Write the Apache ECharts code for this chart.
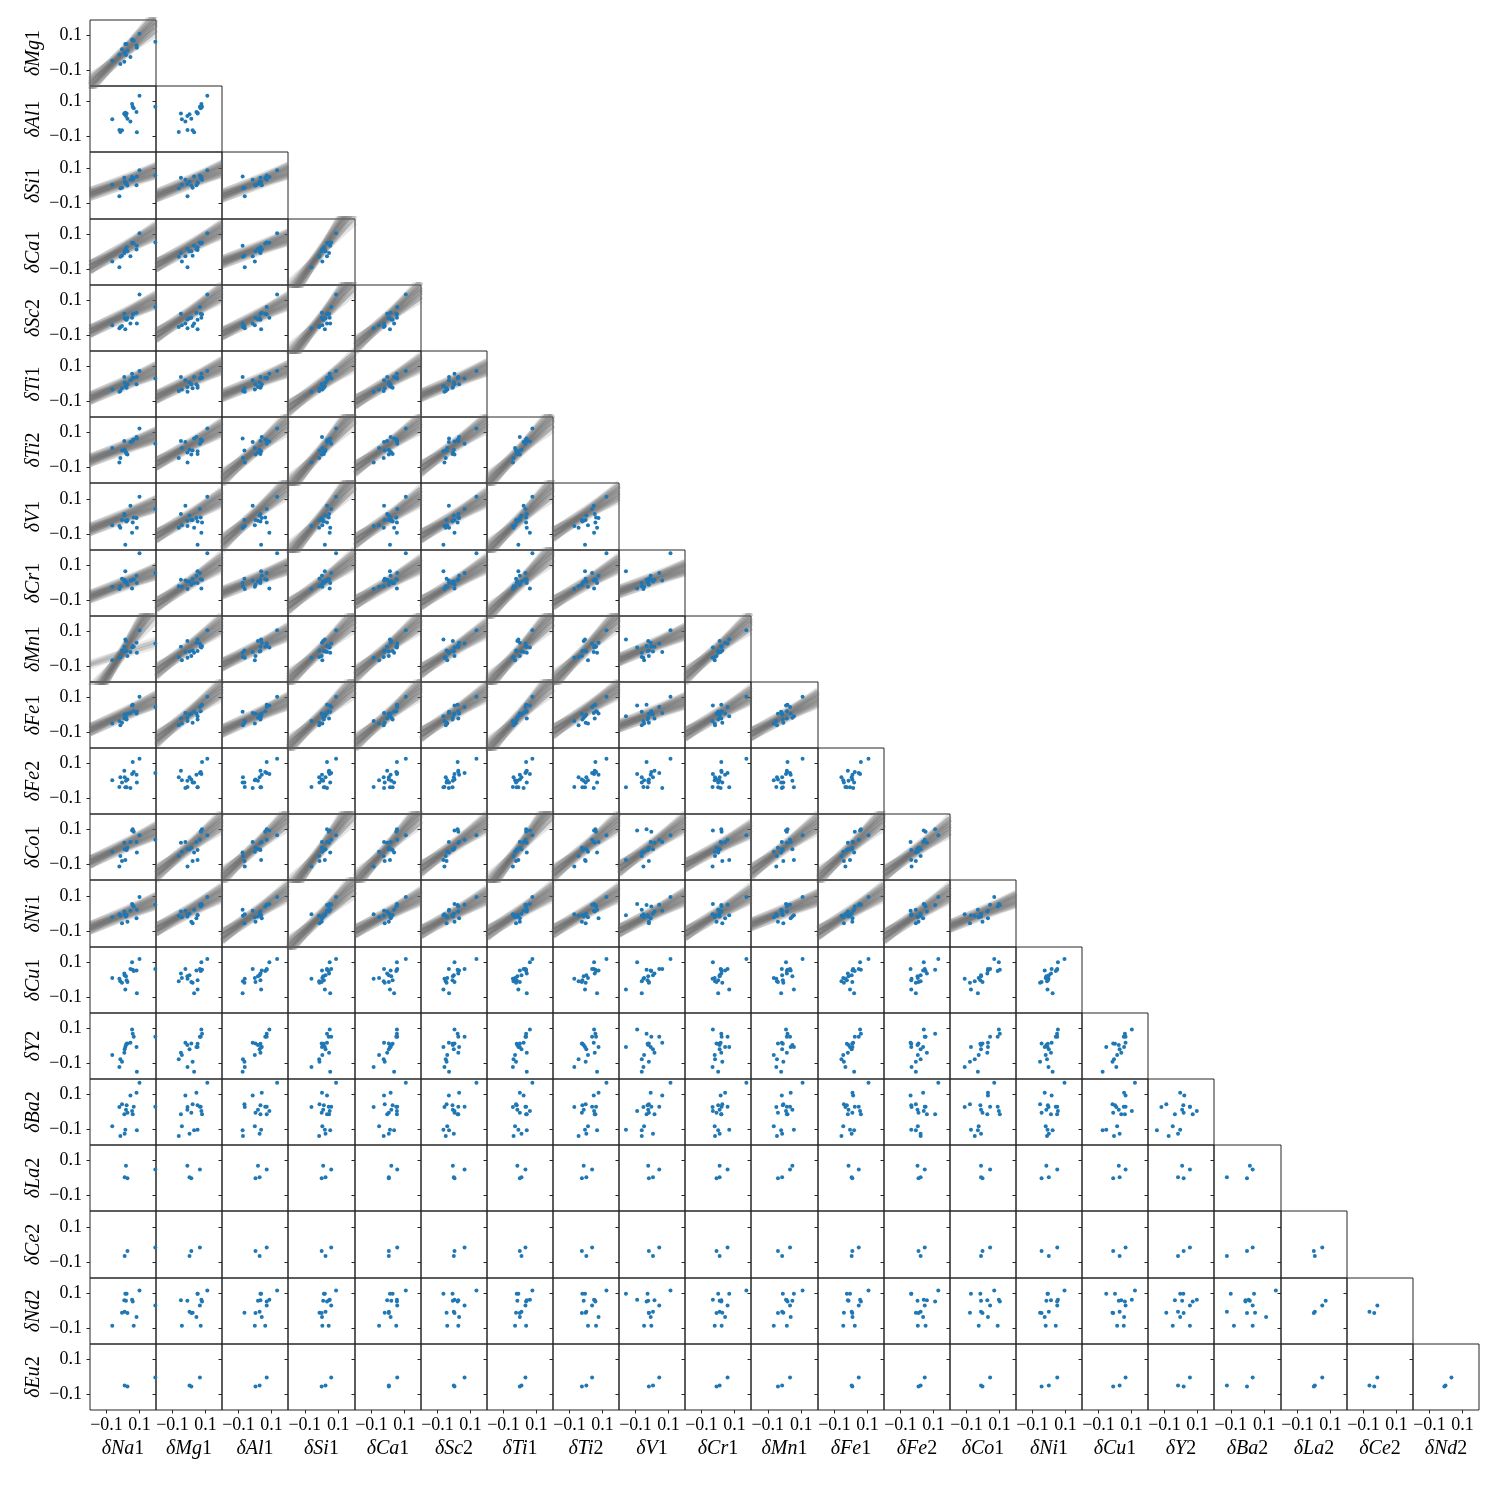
<!DOCTYPE html>
<html>
<head>
<meta charset="utf-8">
<script src="https://cdn.jsdelivr.net/npm/echarts@6/dist/echarts.min.js"></script>
<style>
html, body { margin: 0; background: #fff; }
#chart { width: 1500px; height: 1500px; }
</style>
</head>
<body>
<div id="chart"></div>
<script>
// abundance offsets of each star (same star order in every array, null = not measured)
var na1 = [-0.065, -0.022, -0.016, -0.006, 0.008, 0.010, 0.014, 0.018, 0.022, 0.027, 0.045, 0.055, 0.059, 0.065, 0.082, 0.084, 0.100, 0.196];
var mg1 = [-0.043, -0.009, -0.062, 0.022, -0.049, 0.003, 0.052, -0.010, 0.052, 0.014, -0.022, 0.075, 0.079, 0.071, 0.045, 0.031, 0.111, 0.066];
var al1 = [-0.001, -0.062, -0.073, -0.064, 0.033, 0.028, 0.037, 0.018, 0.033, 0.003, -0.014, 0.087, 0.071, 0.062, 0.041, -0.075, 0.134, 0.071];
var si1 = [0.005, -0.060, -0.014, -0.012, 0.045, 0.024, 0.020, 0.010, 0.014, 0.001, 0.033, 0.049, 0.033, 0.043, 0.003, 0.052, 0.087, 0.058];
var ca1 = [-0.054, -0.087, -0.026, -0.020, -0.005, 0.005, 0.012, 0.020, 0.028, 0.005, -0.024, 0.054, 0.054, 0.050, 0.016, 0.037, 0.108, 0.056];
var sc2 = [-0.041, -0.058, -0.050, -0.045, 0.026, -0.001, -0.064, -0.007, -0.009, 0.003, -0.031, 0.003, 0.022, 0.026, 0.031, -0.030, 0.136, 0.064];
var ti1 = [-0.030, -0.043, -0.039, -0.024, 0.041, 0.009, -0.010, -0.016, -0.020, -0.001, 0.022, 0.060, 0.037, 0.037, -0.001, 0.041, 0.075, 0.033];
var ti2 = [0.012, -0.071, -0.045, -0.002, 0.053, 0.002, -0.006, -0.014, -0.022, -0.025, 0.047, 0.049, 0.057, 0.061, 0.076, 0.067, 0.124, 0.037];
var v1  = [-0.048, -0.052, -0.062, -0.019, 0.015, 0.006, -0.158, -0.023, -0.027, -0.019, 0.062, -0.090, -0.033, -0.004, -0.008, -0.062, 0.112, 0.044];
var cr1 = [-0.020, -0.033, -0.018, 0.026, 0.020, 0.010, 0.068, 0.010, 0.001, -0.009, 0.016, -0.031, 0.020, 0.022, 0.043, 0.001, 0.172, 0.058];
var mn1 = [-0.064, -0.049, -0.045, -0.007, 0.014, -0.014, 0.056, 0.047, -0.010, -0.039, -0.016, 0.009, 0.018, 0.014, 0.037, -0.020, 0.108, 0.033];
var fe1 = [-0.047, -0.034, -0.058, -0.043, -0.019, 0.004, -0.006, -0.015, -0.025, 0.008, 0.013, 0.055, 0.060, 0.023, 0.009, 0.019, 0.106, 0.047];
var fe2 = [0.005, -0.033, 0.022, -0.007, 0.060, 0.022, -0.035, 0.003, -0.035, 0.009, -0.039, 0.041, 0.110, 0.052, 0.037, -0.007, 0.129, 0.047];
var co1 = [-0.026, -0.111, -0.050, -0.079, 0.026, -0.012, -0.073, -0.012, -0.016, -0.003, 0.030, 0.096, 0.102, 0.089, 0.030, -0.031, 0.068, 0.043];
var ni1 = [-0.020, -0.003, -0.012, -0.054, 0.012, -0.001, -0.009, -0.016, -0.007, -0.045, 0.016, 0.054, 0.049, 0.041, -0.026, 0.022, 0.094, 0.050];
var cu1 = [0.013, 0.008, -0.006, -0.015, 0.038, 0.028, -0.053, 0.023, 0.000, -0.011, 0.064, 0.102, 0.060, 0.053, 0.055, -0.075, 0.121, 0.064];
var y2  = [-0.050, -0.119, -0.075, -0.089, -0.037, -0.018, -0.005, 0.007, 0.014, 0.016, 0.020, 0.096, 0.071, 0.054, -0.005, -0.146, null, 0.054];
var ba2 = [-0.081, 0.030, -0.136, 0.045, -0.012, -0.123, -0.100, 0.014, 0.039, -0.003, 0.096, 0.007, -0.012, 0.031, 0.111, -0.104, 0.169, 0.031];
var la2 = [null, null, null, null, null, 0.005, null, 0.071, null, -0.001, null, null, null, null, null, null, null, 0.050];
var ce2 = [null, null, null, null, null, -0.064, null, null, null, -0.035, null, null, null, null, null, null, null, -0.016];
var nd2 = [-0.083, null, null, -0.009, 0.062, -0.003, 0.100, 0.060, 0.100, -0.010, null, 0.066, 0.056, -0.083, -0.033, null, 0.119, 0.033];
var eu2 = [null, null, null, null, null, -0.047, null, null, null, -0.053, null, null, null, null, null, null, null, -0.002];

var rowNames = ['Mg1', 'Al1', 'Si1', 'Ca1', 'Sc2', 'Ti1', 'Ti2', 'V1', 'Cr1', 'Mn1', 'Fe1', 'Fe2', 'Co1', 'Ni1', 'Cu1', 'Y2', 'Ba2', 'La2', 'Ce2', 'Nd2', 'Eu2'];
var colNames = ['Na1', 'Mg1', 'Al1', 'Si1', 'Ca1', 'Sc2', 'Ti1', 'Ti2', 'V1', 'Cr1', 'Mn1', 'Fe1', 'Fe2', 'Co1', 'Ni1', 'Cu1', 'Y2', 'Ba2', 'La2', 'Ce2', 'Nd2'];
var tickValues = [-0.1, 0.1];

// linear fit bands, one slope / intercept per column of the row
var slopeMg1 = [0.9];
var icptMg1  = [0.0];
var slopeSi1 = [0.33, 0.38, 0.355];
var icptSi1  = [0.019, 0.019, 0.014];
var slopeCa1 = [0.52, 0.52, 0.355, 1.32];
var icptCa1  = [0.018, 0.028, 0.014, 0.007];
var slopeSc2 = [0.45, 0.62, 0.47, 1.17, 0.81];
var icptSc2  = [0.015, 0.025, 0.005, 0.0, 0.005];
var slopeTi1 = [0.4, 0.45, 0.38, 0.7, 0.57, 0.4];
var icptTi1  = [0.0, 0.016, 0.011, 0.0, 0.011, 0.016];
var slopeTi2 = [0.36, 0.52, 0.81, 1.1, 0.67, 0.67, 0.95];
var icptTi2  = [0.014, 0.026, 0.0, 0.0, 0.027, 0.027, 0.0];
var slopeV1  = [0.36, 0.55, 0.81, 1.1, 0.64, 0.55, 0.91, 0.6];
var icptV1   = [0.0, 0.0, 0.013, 0.0, -0.01, 0.0, -0.012, 0.02];
var slopeCr1 = [0.36, 0.62, 0.38, 0.69, 0.55, 0.57, 0.91, 0.57, 0.34];
var icptCr1  = [-0.005, 0.0, 0.02, 0.005, 0.0, 0.0, 0.0, 0.0, 0.02];
var slopeMn1 = [1.42, 0.69, 0.47, 0.9, 0.78, 0.62, 1.0, 0.94, 0.4, 0.81];
var icptMn1  = [-0.015, 0.01, 0.005, 0.0, 0.01, 0.0, -0.005, 0.0, 0.02, 0.005];
var slopeMn1Alt = [0.31];
var icptMn1Alt  = [-0.025];
var slopeFe1 = [0.43, 0.74, 0.43, 0.9, 0.8, 0.62, 1.0, 0.62, 0.36, 0.57, 0.52];
var icptFe1  = [0.003, 0.008, -0.005, 0.0, 0.0, 0.013, 0.0, 0.03, 0.01, 0.004, -0.005];
var slopeCo1 = [0.45, 0.76, 0.86, 1.25, 1.0, 0.67, 1.17, 0.76, 0.67, 0.52, 0.71, 0.88, 0.69];
var icptCo1  = [0.005, 0.0, 0.0, -0.01, 0.0, 0.01, 0.0, 0.0, 0.01, 0.0, 0.0, 0.0, -0.014];
var slopeNi1 = [0.38, 0.52, 0.64, 0.9, 0.5, 0.52, 0.6, 0.55, 0.48, 0.57, 0.38, 0.59, 0.62, 0.38];
var icptNi1  = [-0.004, 0.015, 0.0, -0.01, 0.0, 0.0, 0.01, 0.01, 0.0, 0.0, 0.015, 0.01, -0.005, 0.006];

// spread of the drawn fit samples: [relative slope change, intercept shift]
var bandDraws = [[0, 0], [0.05, 0.008], [-0.05, -0.008], [0.1, -0.012], [-0.1, 0.012], [0.16, 0.016], [-0.16, -0.016],
  [0.24, 0.004], [-0.24, -0.004], [0.03, -0.021], [-0.03, 0.021], [0.34, 0.01], [-0.34, -0.01], [0.08, 0.027], [-0.08, -0.027]];

var elementData = {
  Na1: na1, Mg1: mg1, Al1: al1, Si1: si1, Ca1: ca1, Sc2: sc2, Ti1: ti1, Ti2: ti2, V1: v1, Cr1: cr1, Mn1: mn1,
  Fe1: fe1, Fe2: fe2, Co1: co1, Ni1: ni1, Cu1: cu1, Y2: y2, Ba2: ba2, La2: la2, Ce2: ce2, Nd2: nd2, Eu2: eu2
};
var bandFits = {
  Mg1: [slopeMg1, icptMg1], Si1: [slopeSi1, icptSi1], Ca1: [slopeCa1, icptCa1], Sc2: [slopeSc2, icptSc2],
  Ti1: [slopeTi1, icptTi1], Ti2: [slopeTi2, icptTi2], V1: [slopeV1, icptV1], Cr1: [slopeCr1, icptCr1],
  Mn1: [slopeMn1, icptMn1], Fe1: [slopeFe1, icptFe1], Co1: [slopeCo1, icptCo1], Ni1: [slopeNi1, icptNi1]
};

var X0 = 90, Y0 = 20, CW = 66.14, CH = 66.19;
var XMIN = -0.2, XMAX = 0.2, YMIN = -0.188, YMAX = 0.19;
var FONT = 'Liberation Serif';
var INK = '#262626';

function tickFmt(v) {
  return v < 0 ? '\u2212' + Math.abs(v) : String(v);
}
function mathName(el) {
  var m = el.match(/^([A-Za-z]+)(\d+)$/);
  return '{i|\u03b4' + m[1] + '}{r|' + m[2] + '}';
}
var nameRich = {
  i: { fontFamily: FONT, fontStyle: 'italic', fontSize: 20, color: '#000' },
  r: { fontFamily: FONT, fontStyle: 'normal', fontSize: 20, color: '#000' }
};

function bandLines(slope, icpt, draws) {
  var out = [];
  draws.forEach(function (d) {
    var s = slope * (1 + d[0]), b = icpt + d[1];
    out.push({ coords: [[XMIN, b + s * XMIN], [XMAX, b + s * XMAX]] });
  });
  return out;
}

var grids = [], xAxes = [], yAxes = [], series = [];
var nRows = rowNames.length;

rowNames.forEach(function (rn, i) {
  for (var j = 0; j <= i; j++) {
    var cn = colNames[j];
    var g = grids.length;
    var isBottom = i === nRows - 1, isFirst = j === 0;
    var l = Math.round(X0 + j * CW), t = Math.round(Y0 + i * CH);
    var r = Math.round(X0 + (j + 1) * CW), b = Math.round(Y0 + (i + 1) * CH);
    grids.push({ left: l, top: t, width: r - l, height: b - t, show: true, borderColor: INK, borderWidth: 1, backgroundColor: 'transparent' });

    xAxes.push({
      gridIndex: g, type: 'value', min: XMIN, max: XMAX, position: 'bottom',
      splitLine: { show: false }, axisLine: { show: false, onZero: false },
      axisTick: { show: isBottom, customValues: tickValues, length: 3.5, lineStyle: { color: INK } },
      axisLabel: { show: isBottom, customValues: tickValues, formatter: tickFmt, margin: 6, fontFamily: FONT, fontSize: 18, color: '#000' },
      name: isBottom ? mathName(cn) : '', nameLocation: 'middle', nameGap: 29,
      nameTextStyle: { rich: nameRich }
    });
    yAxes.push({
      gridIndex: g, type: 'value', min: YMIN, max: YMAX, position: 'left',
      splitLine: { show: false }, axisLine: { show: false, onZero: false },
      axisTick: { show: true, customValues: tickValues, length: 3.5, lineStyle: { color: INK } },
      axisLabel: { show: isFirst, customValues: tickValues, formatter: tickFmt, margin: 8, fontFamily: FONT, fontSize: 18, color: '#000' },
      name: isFirst ? mathName(rn) : '', nameLocation: 'middle', nameGap: 46, nameRotate: 90,
      nameTextStyle: { rich: nameRich }
    });

    var fit = bandFits[rn];
    if (fit) {
      series.push({
        type: 'lines', coordinateSystem: 'cartesian2d', xAxisIndex: g, yAxisIndex: g, clip: true, silent: true, z: 1,
        lineStyle: { color: '#666666', width: 6, opacity: 0.17, curveness: 0 },
        data: bandLines(fit[0][j], fit[1][j], bandDraws)
      });
      if (rn === 'Mn1' && j < slopeMn1Alt.length) {
        series.push({
          type: 'lines', coordinateSystem: 'cartesian2d', xAxisIndex: g, yAxisIndex: g, clip: true, silent: true, z: 1,
          lineStyle: { color: '#666666', width: 4, opacity: 0.12, curveness: 0 },
          data: bandLines(slopeMn1Alt[j], icptMn1Alt[j], bandDraws.slice(0, 7))
        });
      }
    }

    var xs = elementData[cn], ys = elementData[rn], pts = [];
    for (var k = 0; k < xs.length; k++) {
      if (xs[k] != null && ys[k] != null) pts.push([xs[k], ys[k]]);
    }
    series.push({
      type: 'scatter', xAxisIndex: g, yAxisIndex: g, data: pts, symbolSize: 4, z: 3, silent: true,
      itemStyle: { color: '#1f77b4', opacity: 1 }
    });
  }
});

var chart = echarts.init(document.getElementById('chart'));
chart.setOption({
  animation: false,
  backgroundColor: '#fff',
  grid: grids,
  xAxis: xAxes,
  yAxis: yAxes,
  series: series
});
</script>
</body>
</html>
